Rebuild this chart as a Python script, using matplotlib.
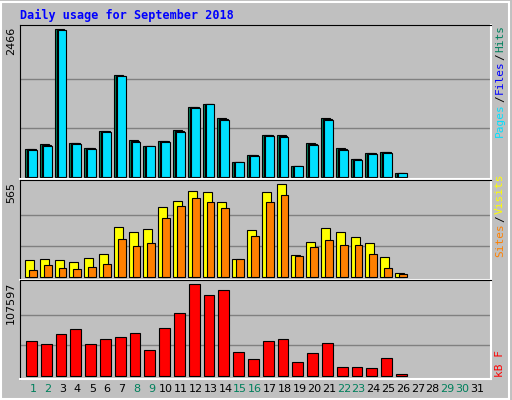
import numpy as np
import matplotlib.pyplot as plt

days = np.arange(1, 32)
hits = [474, 558, 2466, 575, 491, 776, 1696, 625, 524, 608, 792, 1177, 1227, 993,
        257, 374, 709, 709, 190, 575, 993, 491, 307, 407, 424, 73]
files = [466, 541, 2458, 566, 483, 768, 1688, 608, 524, 600, 776, 1168, 1219, 977,
         257, 366, 700, 692, 190, 558, 977, 474, 298, 399, 416, 73]
pages = [457, 524, 2449, 558, 474, 759, 1679, 592, 524, 592, 759, 1160, 1211, 960,
         257, 357, 692, 675, 190, 541, 960, 457, 290, 391, 407, 73]
visits = [100, 106, 100, 88, 112, 137, 302, 271, 290, 424, 461, 522, 516, 455,
          106, 284, 516, 565, 131, 210, 296, 271, 241, 204, 118, 20]
sites = [39, 69, 51, 45, 57, 75, 228, 186, 204, 357, 430, 479, 455, 418,
         106, 247, 455, 497, 124, 180, 222, 192, 192, 137, 51, 14]
kbytes = [40446, 36913, 48694, 54584, 36913, 42802, 45159, 49871, 29845, 55763,
          73433, 107597, 94639, 100530, 27488, 19242, 40446, 42802, 15708, 26311,
          38091, 9817, 9817, 8639, 20420, 1500]
weekend = [1, 2, 8, 9, 15, 16, 22, 23, 29, 30]

W, H = 512, 400
fig = plt.figure(figsize=(5.12, 4.0), dpi=100, facecolor='#C0C0C0')
fig.patches.append(plt.Rectangle((0.002, 0.002), 0.993, 0.993, transform=fig.transFigure,
                                 fill=False, ec='white', lw=1.5))

def panel(top, bottom):
    ax = fig.add_axes([20 / W, 1 - bottom / H, 471 / W, (bottom - top) / H])
    ax.set_facecolor('#C0C0C0')
    ax.set_xlim(0, 471 / 14.8)
    ax.set_xticks([])
    ax.set_yticks([])
    for s in ax.spines.values():
        s.set_color('black')
    ax.spines['bottom'].set_color('white')
    ax.spines['right'].set_color('white')
    ax.spines['bottom'].set_linewidth(1.5)
    ax.spines['right'].set_linewidth(1.5)
    return ax

x = np.arange(len(hits))
kw = dict(align='edge', edgecolor='black', linewidth=0.8)

ax1 = panel(25, 179)
mx = max(hits)
ax1.set_ylim(-33, 2538)
for g in (mx / 3, 2 * mx / 3):
    ax1.axhline(g, color='#808080', lw=1, zorder=0)
ax1.bar(x + 0.34, hits, 0.6, color='#00805C', **kw)
ax1.bar(x + 0.47, files, 0.6, color='#0000FF', **kw)
ax1.bar(x + 0.54, pages, 0.59, color='#00E0FF', **kw)

ax2 = panel(180, 280)
mx = max(visits)
ax2.set_ylim(-20, 591)
for g in (mx / 3, 2 * mx / 3):
    ax2.axhline(g, color='#808080', lw=1, zorder=0)
ax2.bar(x + 0.34, visits, 0.61, color='#FFFF00', **kw)
ax2.bar(x + 0.61, sites, 0.52, color='#FF8000', **kw)

ax3 = panel(280, 379)
mx = max(kbytes)
ax3.set_ylim(-3885, 112660)
for g in (mx / 3, 2 * mx / 3):
    ax3.axhline(g, color='#808080', lw=1, zorder=0)
ax3.bar(x + 0.41, kbytes, 0.72, color='#FF0000', **kw)

for d in days:
    xp = (20 + 13 + (d - 1) * 14.8) / W
    fig.text(xp, 1 - 389 / H, str(d), ha='center', va='center', fontsize=8,
             color='#00805C' if d in weekend else 'black')

fig.text(20 / W, 1 - 15 / H, 'Daily usage for September 2018', color='#0000FF',
         fontsize=8.5, fontweight='bold', family='DejaVu Sans Mono', va='center')
for yp, label in ((25, '2466'), (180, '565'), (280, '107597')):
    fig.text(11 / W, 1 - (yp + 2) / H, label, rotation=90, ha='center', va='top', fontsize=8)

renderer = fig.canvas.get_renderer()

def side(ybottom, parts):
    # stack rotated texts from the bottom upward
    y = ybottom
    for txt, col in parts:
        t = fig.text(500 / W, 1 - y / H, txt, rotation=90, ha='center', va='bottom',
                     fontsize=8, color=col, family='DejaVu Sans Mono')
        y -= t.get_window_extent(renderer).height + 1

side(137, [('Pages', '#00E0FF'), ('/', 'black'), ('Files', '#0000FF'), ('/', 'black'), ('Hits', '#00805C')])
side(257, [('Sites', '#FF8000'), ('/', 'black'), ('Visits', '#FFFF00')])
side(377, [('kB F', '#FF0000')])

fig.savefig('out.png', dpi=100, facecolor=fig.get_facecolor())
